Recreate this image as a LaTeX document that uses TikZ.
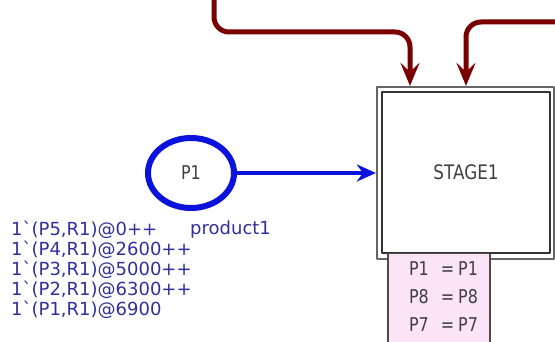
\documentclass[tikz,border=0pt]{standalone}
\usepackage{fontspec}
\newfontfamily\cpnfont{DejaVu Sans}
\newfontfamily\cpnnarrow[FakeStretch=0.84]{DejaVu Sans}
\usetikzlibrary{arrows.meta,shapes.geometric}
\definecolor{placeblue}{HTML}{0A12DC}
\definecolor{markblue}{HTML}{30309C}
\definecolor{arcred}{HTML}{7A0000}
\definecolor{segpink}{HTML}{FCE4F8}
\newcommand\fuseq[1]{\hspace*{9pt}#1\hspace{12pt}=\hspace{4pt}#1}
\begin{document}
\begin{tikzpicture}[x=1pt,y=-1pt,line join=round,
	font=\cpnfont\fontsize{18}{20}\selectfont,
	place/.style={ellipse,draw=placeblue,line width=6pt,minimum width=86pt,minimum height=70pt,text=black!75,
		font=\cpnnarrow\fontsize{19}{20}\selectfont},
	trans/.style={rectangle,draw=black!60,line width=2.2pt,minimum width=177pt,minimum height=172pt},
	transin/.style={rectangle,draw=black!80,line width=1.5pt,minimum width=168pt,minimum height=161pt,text=black!75,
		font=\cpnnarrow\fontsize{20}{20}\selectfont},
	segbox/.style={rectangle,draw=black!70,fill=segpink,line width=1.5pt,minimum width=102pt,inner xsep=0pt,inner ysep=8pt,
		align=left,text=black!75,font=\cpnnarrow\fontsize{19}{28}\selectfont,text depth=30pt},
	marktext/.style={inner sep=0pt,align=left,text=markblue},
	blarc/.style={draw=placeblue,line width=3.5pt,-{Stealth[length=19pt,width=17pt,inset=6pt]}},
	rdarc/.style={draw=arcred,line width=5pt,rounded corners=15pt,-{Stealth[length=23pt,width=19pt,inset=9pt]}}]
	\useasboundingbox (0,0) rectangle (555,342);
	% place and transition
	\node[place] (p1) at (191,173) {P1};
	\node[trans] (stage1) at (465.5,173) {};
	\node[transin] (stage1in) at (466,172.5) {STAGE1};
	\node[segbox,anchor=north] (seg) at (439,253) {\fuseq{P1}\\\fuseq{P8}\\\fuseq{P7}};
	% initial marking
	\node[marktext,anchor=north west] (marks) at (11,221) {1\textasciigrave(P5,R1)@0++\\1\textasciigrave(P4,R1)@2600++\\1\textasciigrave(P3,R1)@5000++\\1\textasciigrave(P2,R1)@6300++\\1\textasciigrave(P1,R1)@6900};
	\node[marktext,anchor=base west] (colset) at (190,235) {product1};
	% arcs
	\draw[blarc] (p1) -- (stage1);
	\coordinate (in1) at (214,-6);
	\coordinate (a1) at (410,32);
	\coordinate (in2) at (562,22);
	\coordinate (a2) at (466,22);
	\draw[rdarc] (in1) |- (a1) -- (a1 |- stage1.north);
	\draw[rdarc] (in2) -- (a2) -- (a2 |- stage1.north);
\end{tikzpicture}
\end{document}
